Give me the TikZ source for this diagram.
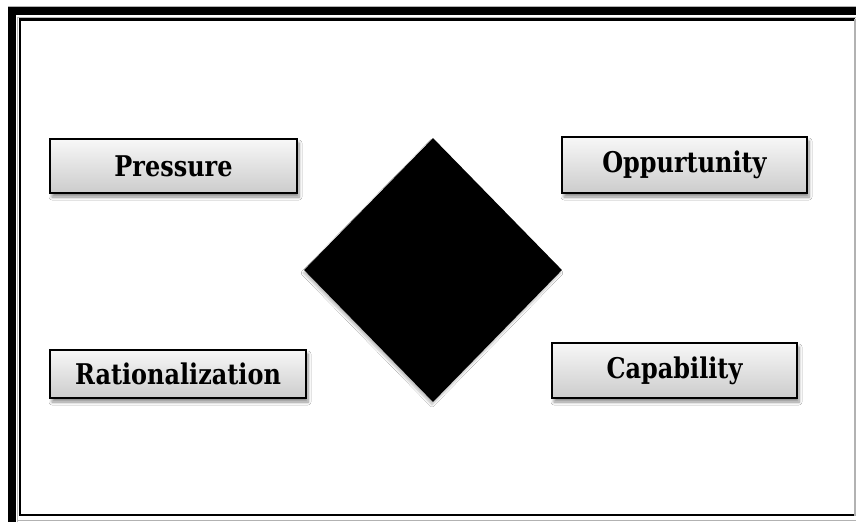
\documentclass[tikz,border=0pt]{standalone}
\usepackage{fontspec}
\setmainfont{DejaVu Serif}
\newfontfamily\labelfont{DejaVu Serif}[FakeStretch=0.84]
\usetikzlibrary{shapes.geometric,shadows.blur}
\begin{document}
\begin{tikzpicture}[x=1pt,y=-1pt,
  factorbox/.style={draw=black, line width=1.6pt, inner sep=0pt,
    top color=gray!6, bottom color=gray!40,
    font=\labelfont\fontsize{28.5}{32}\selectfont\bfseries,
    blur shadow={shadow xshift=2pt, shadow yshift=-4pt,
      shadow blur steps=6, shadow blur radius=3pt, shadow opacity=45}},
  corediamond/.style={diamond, fill=black, inner sep=0pt,
    minimum width=258pt, minimum height=264pt,
    blur shadow={shadow xshift=-1pt, shadow yshift=-3pt,
      shadow blur steps=5, shadow blur radius=2pt, shadow opacity=25}}]
  \useasboundingbox (0,0) rectangle (856,522);
  \fill[white] (0,0) rectangle (856,522);

  % page border: thick outer band on top and left, thin inner line
  \fill[black] (8,7) rectangle (856,15);
  \fill[black] (8,7) rectangle (16,522);
  \draw[gray!60, line width=1pt] (8,6.5) -- (856,6.5);
  \draw[gray!55, line width=1pt] (17.5,522) -- (17.5,17) -- (856,17);
  \draw[black, line width=2.5pt] (855,19.5) -- (20,19.5) -- (20,515) -- (855,515);
  \draw[gray!60, line width=1.5pt] (855,18.5) -- (855,516);
  \draw[gray!60, line width=1pt] (17.5,520) -- (856,520);

  % centre diamond
  \node[corediamond] (core) at (433,270) {};

  % the four factors
  \node[factorbox, minimum width=247pt, minimum height=54pt] (pressure) at (173.5,166) {Pressure};
  \node[factorbox, minimum width=245pt, minimum height=56pt] (opportunity) at (684.5,165) {Oppurtunity};
  \node[factorbox, minimum width=256pt, minimum height=48pt] (rational) at (178,374) {Rationalization};
  \node[factorbox, minimum width=245pt, minimum height=55pt] (capability) at (674.5,370.5) {Capability};
\end{tikzpicture}
\end{document}
